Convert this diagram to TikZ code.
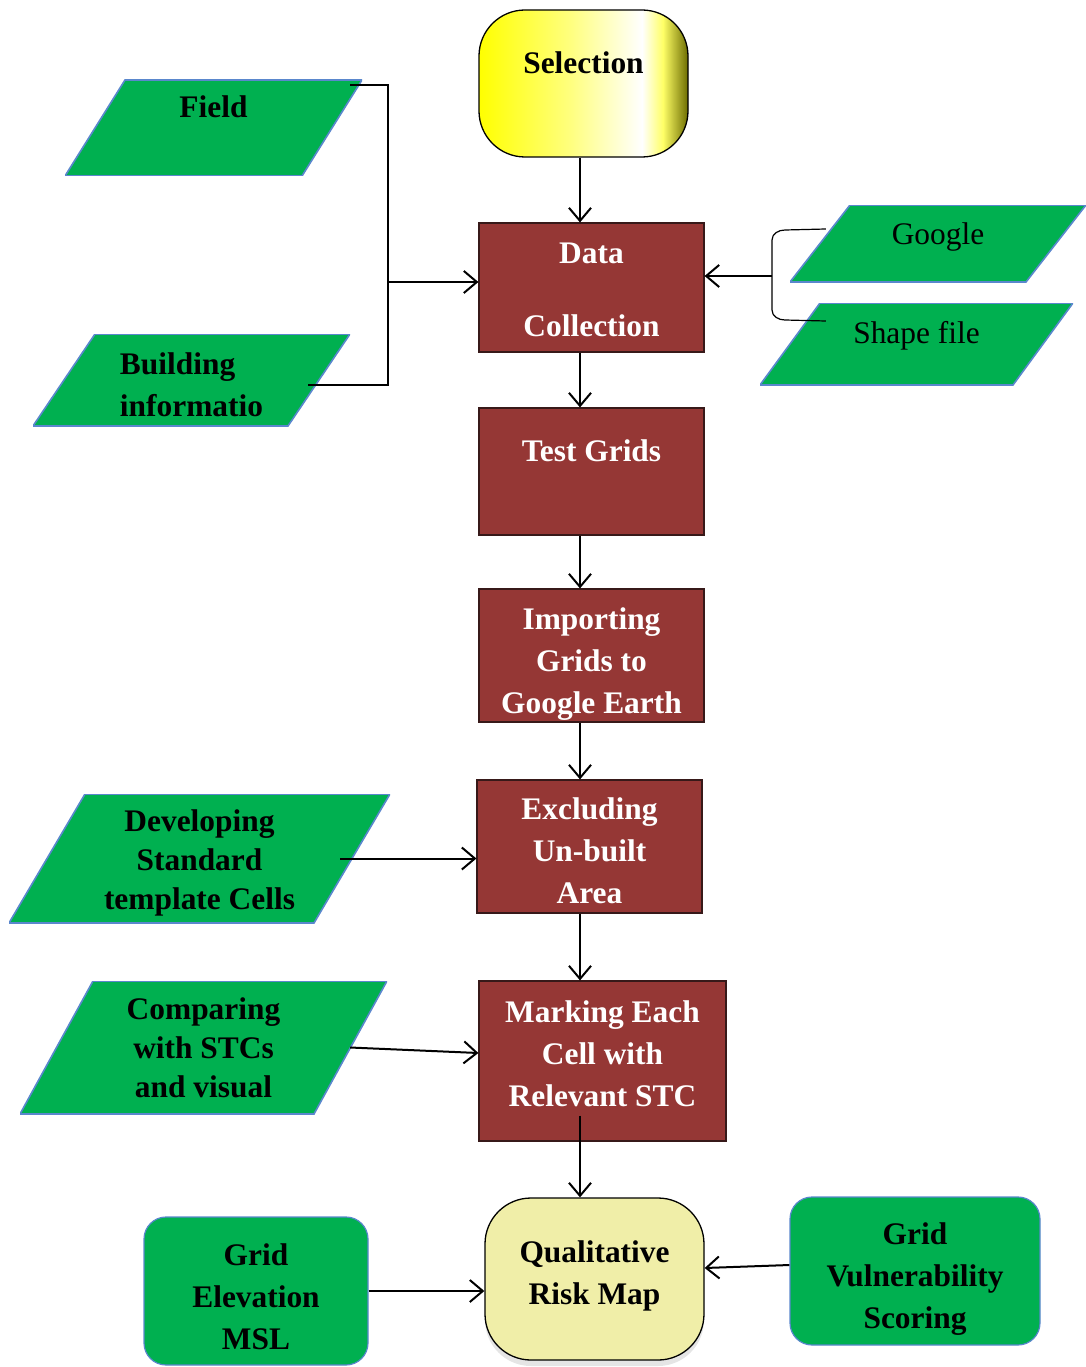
\documentclass[tikz,border=0pt]{standalone}
\usepackage{fontspec}
\setmainfont{Liberation Serif}
\usetikzlibrary{arrows.meta,shadows}

\definecolor{boxred}{RGB}{149,55,53}
\definecolor{boxredline}{RGB}{55,25,25}
\definecolor{inputgreen}{RGB}{0,176,80}
\definecolor{inputline}{RGB}{90,135,205}
\definecolor{qualfill}{RGB}{240,238,168}
\pgfdeclarehorizontalshading{selshade}{100bp}{color(0bp)=(yellow); color(25bp)=(yellow); color(47bp)=(yellow!50!white); color(64bp)=(white); color(69bp)=(yellow!60!white); color(75bp)=(olive!85!black); color(100bp)=(olive!85!black)}

\tikzset{
  bigfont/.style={font=\bfseries\fontsize{31.4}{42}\selectfont},
  plainfont/.style={font=\fontsize{31.4}{42}\selectfont},
  boxlabel/.style={bigfont, align=center, inner sep=0pt},
  process/.style={rectangle, draw=boxredline, line width=1.2pt, fill=boxred, text=white, bigfont, align=center, inner sep=2pt},
  dataio/.style={rectangle, bigfont, align=center, inner sep=2pt,
    path picture={\fill[inputgreen, draw=inputline, line width=1.6pt]
      ([xshift=#1]path picture bounding box.north west) -- (path picture bounding box.north east)
      -- ([xshift=-#1]path picture bounding box.south east) -- (path picture bounding box.south west) -- cycle;}},
  source/.style={rectangle, rounded corners=22pt, draw=inputline, line width=1.2pt, fill=inputgreen, bigfont, align=center, inner sep=2pt},
  terminal/.style={rectangle, rounded corners=46pt, draw=black, line width=1.3pt, bigfont, align=center, inner sep=2pt},
  flow/.style={-{Straight Barb[length=13pt,width=22pt]}, line width=2pt},
  link/.style={line width=2pt},
}

\begin{document}
\begin{tikzpicture}[x=1pt,y=-1pt]
\useasboundingbox (0,0) rectangle (1086,1367);

\node [terminal, shading=selshade, minimum width=209pt, minimum height=147pt] (selection) at (583.5,83.5) {Selection\\ ~};

\node [process, minimum width=225pt, minimum height=129pt, label={[boxlabel, text=white, yshift=-2.5pt]center:{Data\\[31pt]Collection}}] (datacol) at (591.5,287.5) {};
\node [process, minimum width=225pt, minimum height=127pt] (testgrid) at (591.5,471.5) {Test Grids\\ ~};
\node [process, minimum width=225pt, minimum height=133pt, label={[boxlabel, text=white, yshift=-8.5pt]center:{Importing\\Grids to\\Google Earth}}] (importing) at (591.5,655.5) {};
\node [process, minimum width=225pt, minimum height=133pt, label={[boxlabel, text=white, yshift=-4pt]center:{Excluding\\Un-built\\Area}}] (excluding) at (589.5,846.5) {};
\node [process, minimum width=247pt, minimum height=160pt, label={[boxlabel, text=white, yshift=7pt]center:{Marking Each\\Cell with\\Relevant STC}}] (marking) at (602.5,1061) {};

\node [terminal, fill=qualfill, general shadow={shadow yshift=-6pt, fill=black!10}, minimum width=219pt, minimum height=162pt, label={[boxlabel, yshift=3.5pt]center:{Qualitative\\Risk Map}}] (qual) at (594.5,1279) {};

\node [dataio=60pt, minimum width=297pt, minimum height=96pt] (field) at (213.5,128) {Field\\ ~};
\node [dataio=62pt, minimum width=317pt, minimum height=92pt, label={[boxlabel, align=left, yshift=-5pt]center:{Building\\informatio}}] (bldg) at (191.5,380) {};
\node [dataio=60pt, minimum width=296pt, minimum height=77pt, label={[boxlabel, plainfont, yshift=7pt]center:Google}] (google) at (938,243.5) {};
\node [dataio=60pt, minimum width=313pt, minimum height=82pt, label={[boxlabel, plainfont, yshift=8pt]center:Shape file}] (shapefile) at (916.5,344) {};
\node [dataio=76pt, minimum width=381pt, minimum height=129pt, label={[boxlabel, font=\bfseries\fontsize{31.4}{39}\selectfont, yshift=-4.5pt]center:{Developing\\Standard\\template Cells}}] (devel) at (199.5,858.5) {};
\node [dataio=73pt, minimum width=367pt, minimum height=133pt, font=\bfseries\fontsize{31.4}{39}\selectfont] (comparing) at (203.5,1047.5) {Comparing\\with STCs\\and visual};

\node [source, minimum width=224pt, minimum height=148pt, label={[boxlabel, yshift=-5.5pt]center:{Grid\\Elevation\\MSL}}] (elev) at (256,1291) {};
\node [source, minimum width=250pt, minimum height=148pt, label={[boxlabel, yshift=-8.5pt]center:{Grid\\Vulnerability\\Scoring}}] (vuln) at (915,1271) {};

\coordinate (spine) at (580,0);
\coordinate (join) at (388,282);
\coordinate (fieldout) at ([xshift=-12pt,yshift=-5pt]field.north east);
\coordinate (bldgout) at ([xshift=-42pt,yshift=-5pt]bldg.east);
\coordinate (brk) at (772,276);
\coordinate (gin) at ([xshift=36pt,yshift=14.5pt]google.west);
\coordinate (sin) at ([xshift=66pt,yshift=23pt]shapefile.west);

\draw [flow] (selection.south -| spine) -- (datacol.north -| spine);
\draw [flow] (datacol.south -| spine) -- (testgrid.north -| spine);
\draw [flow] (testgrid.south -| spine) -- (importing.north -| spine);
\draw [flow] (importing.south -| spine) -- (excluding.north -| spine);
\draw [flow] (excluding.south -| spine) -- (marking.north -| spine);
\draw [flow] ([yshift=26pt]marking.south -| spine) -- (qual.north -| spine);

\draw [link] (fieldout) -| (join) |- (bldgout);
\draw [flow] (join) -- (join -| datacol.west);

\draw [line width=1.2pt] (gin) -- (785,230) to[out=180,in=90] (772,240) -- (772,310) to[out=-90,in=180] (785,320) -- (sin);
\draw [flow] (brk) -- (brk -| datacol.east);

\draw [flow] ([xshift=-50pt]devel.east) -- (devel.east -| excluding.west);
\draw [flow] ([xshift=-37pt]comparing.east) -- ([yshift=8pt]marking.west);
\draw [flow] (elev.east) -- (elev.east -| qual.west);
\draw [flow] ([yshift=6pt]vuln.west) -- ([yshift=11pt]qual.east);
\end{tikzpicture}
\end{document}
